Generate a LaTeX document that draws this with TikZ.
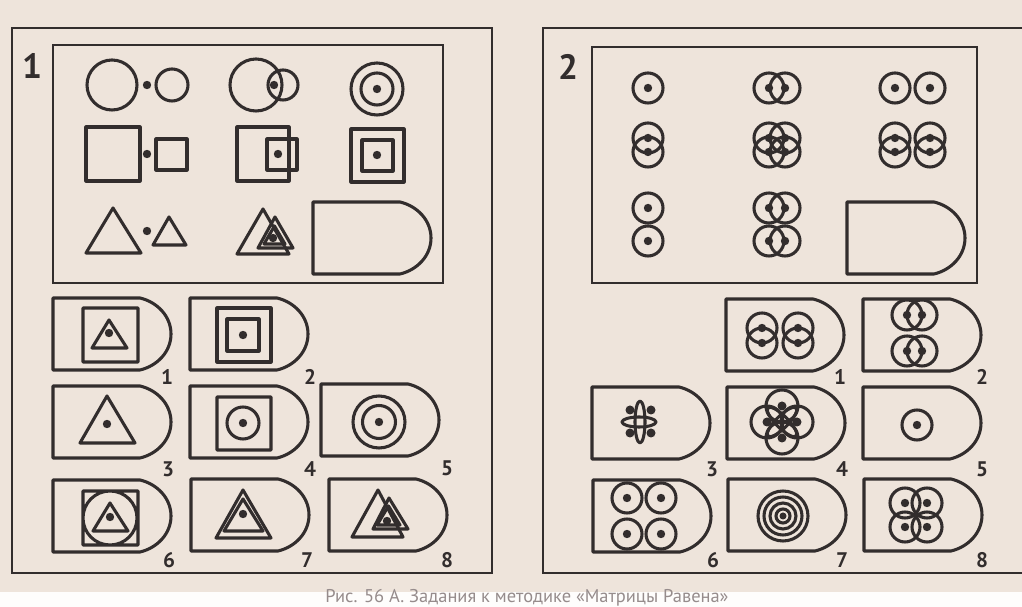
\documentclass[tikz,border=0pt]{standalone}
\usepackage{fontspec}
\newfontfamily\numfont{PT Sans}
\definecolor{paper}{RGB}{238,228,219}
\definecolor{ink}{RGB}{50,45,45}
\definecolor{capgray}{RGB}{150,140,140}

\begin{document}
\begin{tikzpicture}[x=0.02cm, y=-0.02cm,
  fig/.style={draw=ink, line width=1.75pt, line join=round},
  frame/.style={draw=ink, line width=1.4pt},
  tilenum/.style={text=ink, font=\numfont\bfseries\fontsize{12}{14}\selectfont, inner sep=0pt},
  panelnum/.style={text=ink, font=\numfont\bfseries\fontsize{20}{24}\selectfont, inner sep=0pt},
  pics/ring/.style={code={
    \draw[fig] (0,0) circle (15);
    \fill[ink] (0,0) circle (4.2);}},
  pics/slot/.style={code={
    \draw[fig] (0,0) -- (87,0) .. controls (104,4) and (118,18) .. (118,36)
      .. controls (118,54) and (104,68) .. (87,72) -- (0,72) -- cycle;}}]
  % --- page and paper ---
  \useasboundingbox (0,0) rectangle (1022,607);
  \clip (0,0) rectangle (1022,607);
  \fill[paper] (0,0) rectangle (1022,607);
  \fill[white!92!paper] (0,592) rectangle (1022,607);

  % ===== panel 1 =====
  \draw[frame] (12,28) rectangle (492,573);
  \draw[frame] (53,45) rectangle (443,283);
  \node[panelnum] (p1) at (32,66) {1};

  % row 1: circles
  \draw[fig] (112,85) circle (25) (172,85) circle (16);
  \draw[fig] (256,85) circle (26) (283,85) circle (15);
  \draw[fig] (377,89) circle (26) (377,89) circle (16);
  % row 2: squares
  \draw[fig] (86,127) rectangle (140,181) (156,139) rectangle (187,170);
  \draw[fig] (237,127) rectangle (289,181) (267,139) rectangle (297,170);
  \draw[fig] (351,129) rectangle (404,182) (362,140) rectangle (393,171);
  % row 3: triangles
  \draw[fig] (86,253) -- (141,253) -- (113,208) -- cycle;
  \draw[fig] (153,245) -- (186,245) -- (169,217) -- cycle;
  \draw[fig] (237,254) -- (289,254) -- (263,209) -- cycle;
  \draw[fig] (258,248) -- (293,248) -- (275,217) -- cycle;
  \draw[fig] (264,244) -- (285,244) -- (274.5,226) -- cycle;
  \pic at (313,202) {slot};
  \foreach \x/\y in {147/85, 274/85, 377/89, 147/154, 278/154, 377/155, 147/231, 273/238}
    \fill[ink] (\x,\y) circle (4.2);

  % answers 1..8
  \foreach \x/\y in {53/298, 190/298, 53/386, 190/386, 321/384, 53/480, 191/479, 329/479}
    \pic at (\x,\y) {slot};
  \foreach \n/\x/\y in {1/167/377, 2/310/377, 3/168/469, 4/310/469,
                        5/447/468, 6/169/560, 7/307/560, 8/447/560}
    \node[tilenum] (a\n) at (\x,\y) {\n};

  \draw[fig] (83,308) rectangle (138,362) (92,348) -- (127,348) -- (109,320) -- cycle;
  \draw[fig] (217,308) rectangle (271,362) (227,319) rectangle (259,351);
  \draw[fig] (80,443) -- (135,443) -- (107,396) -- cycle;
  \draw[fig] (217,397) rectangle (271,450) (243,423) circle (16);
  \draw[fig] (379,422) circle (26) (379,422) circle (16.5);
  \draw[fig] (83,491) rectangle (138,545) (110,518) circle (27)
             (93,531) -- (128,531) -- (110,503) -- cycle;
  \draw[fig] (216,538) -- (271,538) -- (243,490) -- cycle;
  \draw[fig] (224,531) -- (263,531) -- (243,499) -- cycle;
  \draw[fig] (352,537) -- (403,537) -- (378,490) -- cycle;
  \draw[fig] (373,529) -- (408,529) -- (389,498) -- cycle;
  \draw[fig] (377,525) -- (400,525) -- (388.5,506) -- cycle;
  \foreach \x/\y in {109/333, 243/335, 107/424, 243/423, 379/422, 110/517, 243/514, 387/521}
    \fill[ink] (\x,\y) circle (4.2);

  % ===== panel 2 =====
  \draw[frame] (543,28) rectangle (1030,573);
  \draw[frame] (592,47) rectangle (977,283);
  \node[panelnum] (p2) at (568,67) {2};

  \foreach \x/\y in {648/88, 769/88, 785/88, 895/88, 930/88,
                     648/138, 648/152, 769/138, 785/138, 769/152, 785/152,
                     895/138, 895/152, 930/138, 930/152,
                     648/208, 648/241, 769/208, 785/208, 769/241, 785/241}
    \pic at (\x,\y) {ring};
  \pic at (847,202) {slot};

  % answers 1..8
  \foreach \x/\y in {726/299, 863/299, 592/387, 727/387, 863/387, 593/480, 728/479, 864/479}
    \pic at (\x,\y) {slot};
  \foreach \n/\x/\y in {1/840/377, 2/982/377, 3/712/469, 4/842/469,
                        5/982/469, 6/713/560, 7/842/560, 8/982/560}
    \node[tilenum] (b\n) at (\x,\y) {\n};

  \foreach \x/\y in {762/328, 762/343, 798/328, 798/343,
                     907/315, 922/315, 907/351, 922/351,
                     917/425,
                     627/498, 661/498, 627/534, 661/534,
                     905/503, 927/503, 905/527, 927/527}
    \pic at (\x,\y) {ring};
  % small flower
  \draw[fig] (640,422) ellipse [x radius=5, y radius=21]
             (639,422) ellipse [x radius=17, y radius=5];
  \foreach \x/\y in {630/410, 651/410, 630/433, 651/433}
    \fill[ink] (\x,\y) circle (4.5);
  % four circles with crossed petals
  \foreach \x/\y in {782/406, 767/422, 797/422, 782/438} {
    \draw[fig] (\x,\y) circle (16);
    \fill[ink] (\x,\y) circle (4.5);
  }
  \draw[fig, rotate around={45:(782,422)}] (782,422) ellipse [x radius=20, y radius=6];
  \draw[fig, rotate around={-45:(782,422)}] (782,422) ellipse [x radius=20, y radius=6];
  % target
  \foreach \r in {25,19,13,7}
    \draw[fig] (783,516) circle (\r);
  \fill[ink] (783,516) circle (3.5);

  % caption
  \node[text=capgray, font=\numfont\fontsize{10.5}{12}\selectfont, anchor=base]
    (cap) at (527,603) {Рис. 56 А. Задания к методике «Матрицы Равена»};
\end{tikzpicture}
\end{document}
